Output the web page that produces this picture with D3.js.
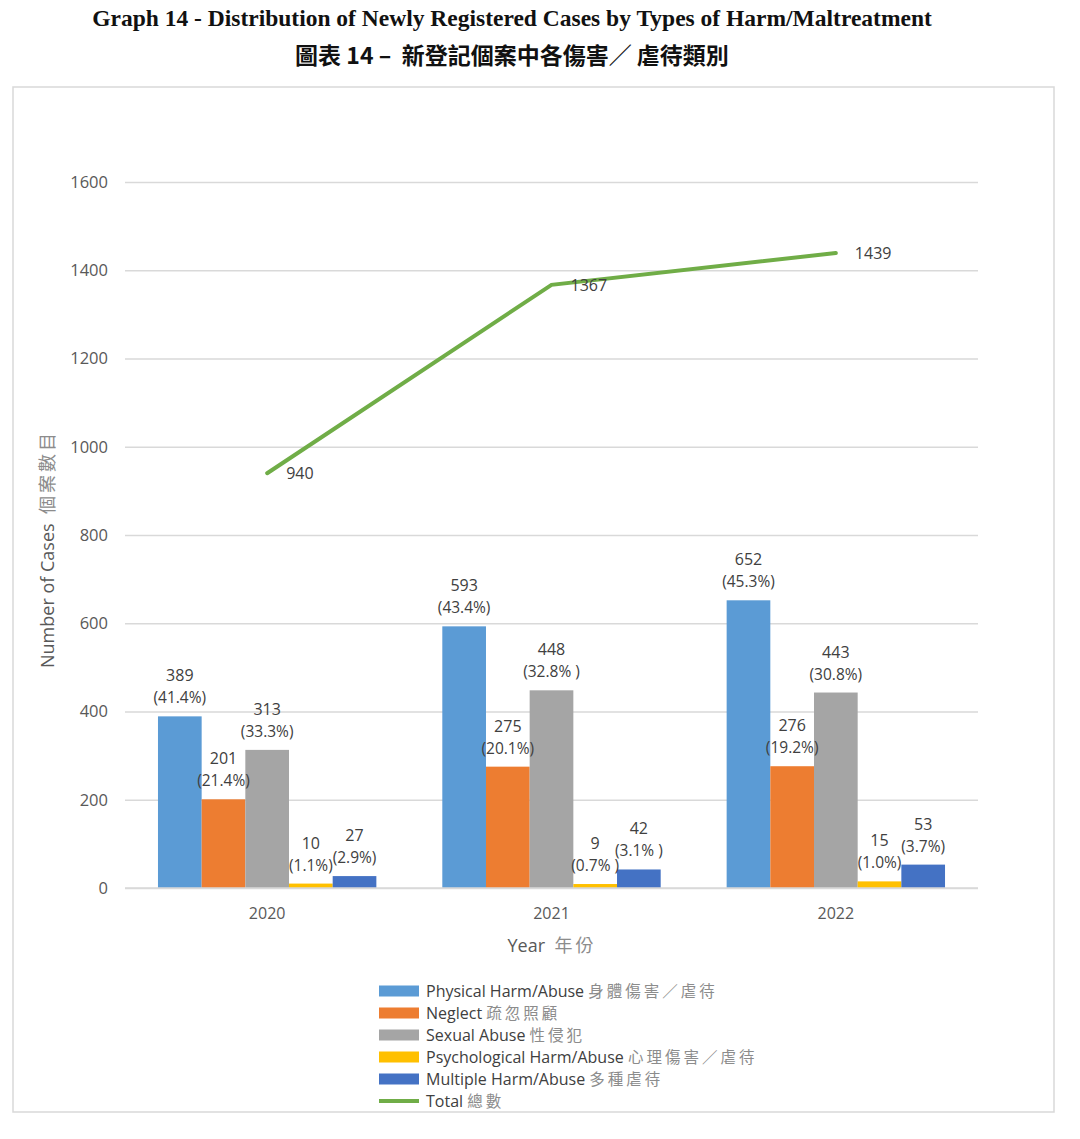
<!DOCTYPE html>
<html>
<head>
<meta charset="utf-8">
<script src="https://cdn.jsdelivr.net/npm/d3@7"></script>
<style>
  html, body { margin: 0; padding: 0; background: #fff; }
  svg { display: block; }
  text { white-space: pre; }
</style>
</head>
<body>
<svg id="chart" width="1080" height="1139"></svg>
<script>
// ---- data ----
const years = ["2020", "2021", "2022"];
const seriesKeys = ["physical", "neglect", "sexual", "psychological", "multiple"];
const seriesNamesEn = ["Physical Harm/Abuse", "Neglect", "Sexual Abuse", "Psychological Harm/Abuse", "Multiple Harm/Abuse"];
const seriesNamesZh = ["身體傷害／虐待", "疏忽照顧", "性侵犯", "心理傷害／虐待", "多種虐待"];
const physical = [389, 593, 652];
const neglect = [201, 275, 276];
const sexual = [313, 448, 443];
const psychological = [10, 9, 15];
const multiple = [27, 42, 53];
const physicalPct = ["(41.4%)", "(43.4%)", "(45.3%)"];
const neglectPct = ["(21.4%)", "(20.1%)", "(19.2%)"];
const sexualPct = ["(33.3%)", "(32.8% )", "(30.8%)"];
const psychologicalPct = ["(1.1%)", "(0.7% )", "(1.0%)"];
const multiplePct = ["(2.9%)", "(3.1% )", "(3.7%)"];
const total = [940, 1367, 1439];
const yTicks = [0, 200, 400, 600, 800, 1000, 1200, 1400, 1600];
const colors = ["#5B9BD5", "#ED7D31", "#A5A5A5", "#FFC000", "#4472C4"];
const totalColor = "#70AD47";

const seriesValues = [physical, neglect, sexual, psychological, multiple];
const seriesPct = [physicalPct, neglectPct, sexualPct, psychologicalPct, multiplePct];

// ---- layout ----
const svg = d3.select("#chart");
const plot = { left: 125, right: 978, top: 182, bottom: 888 };
const latin = "'Open Sans', 'Noto Sans', sans-serif";
const cjk = "'Noto Sans CJK TC', 'Noto Sans CJK SC', sans-serif";

// frame
svg.append("rect").attr("x", 13).attr("y", 87).attr("width", 1041).attr("height", 1025)
  .attr("fill", "#fff").attr("stroke", "#d9d9d9").attr("stroke-width", 1.5);

// titles
svg.append("text").attr("x", 512).attr("y", 26).attr("text-anchor", "middle")
  .attr("font-family", "'Liberation Serif', 'Times New Roman', serif").attr("font-weight", "bold")
  .attr("font-size", 23.5).attr("fill", "#111")
  .text("Graph 14 - Distribution of Newly Registered Cases by Types of Harm/Maltreatment");
svg.append("text").attr("x", 512).attr("y", 64).attr("text-anchor", "middle")
  .attr("font-family", cjk).attr("font-weight", "bold")
  .attr("font-size", 23).attr("fill", "#111")
  .text("圖表 14 –  新登記個案中各傷害／ 虐待類別");

// scales
const y = d3.scaleLinear().domain([0, 1600]).range([plot.bottom, plot.top]);
const x0 = d3.scaleBand().domain(years).range([plot.left, plot.right]).paddingInner(0).paddingOuter(0);
const x1 = d3.scaleBand().domain(seriesKeys).range([0, x0.bandwidth()]).paddingInner(0).paddingOuter(0.755);

// gridlines + y axis
const yAxis = d3.axisLeft(y).tickValues(yTicks).tickFormat(d3.format("d"))
  .tickSize(-(plot.right - plot.left)).tickPadding(17);
const gy = svg.append("g").attr("transform", `translate(${plot.left},0)`).call(yAxis);
gy.select(".domain").remove();
gy.selectAll(".tick line").attr("stroke", "#d9d9d9").attr("stroke-width", 1.3);
gy.selectAll(".tick text").attr("font-family", latin).attr("font-size", 16.5).attr("fill", "#595959");

// x axis
const xAxis = d3.axisBottom(x0).tickSize(0).tickPadding(20);
const gx = svg.append("g").attr("transform", `translate(0,${plot.bottom})`).call(xAxis);
gx.select(".domain").remove();
gx.selectAll(".tick text").attr("font-family", latin).attr("font-size", 16).attr("fill", "#595959");

// bars
seriesKeys.forEach((k, si) => {
  const g = svg.append("g");
  g.selectAll("rect").data(years).join("rect")
    .attr("x", d => x0(d) + x1(k))
    .attr("y", (d, i) => y(seriesValues[si][i]))
    .attr("width", x1.bandwidth())
    .attr("height", (d, i) => y(0) - y(seriesValues[si][i]))
    .attr("fill", colors[si]);
});

// baseline
svg.append("line").attr("x1", plot.left).attr("x2", plot.right)
  .attr("y1", y(0)).attr("y2", y(0)).attr("stroke", "#d9d9d9").attr("stroke-width", 1.3);

// bar labels
seriesKeys.forEach((k, si) => {
  const g = svg.append("g").attr("font-family", latin).attr("fill", "#404040").attr("text-anchor", "middle");
  years.forEach((yr, i) => {
    const cx = x0(yr) + x1(k) + x1.bandwidth() / 2;
    const top = y(seriesValues[si][i]);
    g.append("text").attr("x", cx).attr("y", top - 35).attr("font-size", 16)
      .text(seriesValues[si][i]);
    g.append("text").attr("x", cx).attr("y", top - 13).attr("font-size", 15.5)
      .text(seriesPct[si][i]);
  });
});

// total line
const line = d3.line().x((d, i) => x0(years[i]) + x0.bandwidth() / 2).y(d => y(d));
svg.append("path").datum(total).attr("d", line)
  .attr("fill", "none").attr("stroke", totalColor).attr("stroke-width", 4).attr("stroke-linecap", "round");
svg.append("g").selectAll("text").data(total).join("text")
  .attr("x", (d, i) => x0(years[i]) + x0.bandwidth() / 2 + 19)
  .attr("y", d => y(d) + 6)
  .attr("font-family", latin).attr("font-size", 16).attr("fill", "#404040")
  .text(d => d);

// axis titles
const xt = svg.append("text").attr("x", 552).attr("y", 952).attr("text-anchor", "middle")
  .attr("font-size", 18).attr("fill", "#595959");
xt.append("tspan").attr("font-family", latin).text("Year  ");
xt.append("tspan").attr("font-family", cjk).attr("fill", "#8c8c8c").attr("letter-spacing", 3).text("年份");

const yt = svg.append("text").attr("transform", "translate(54,549) rotate(-90)").attr("text-anchor", "middle")
  .attr("font-size", 18).attr("fill", "#595959");
yt.append("tspan").attr("font-family", latin).text("Number of Cases  ");
yt.append("tspan").attr("font-family", cjk).attr("fill", "#8c8c8c").attr("letter-spacing", 3).text("個案數目");

// legend
const legendRows = [991, 1013, 1035, 1057, 1079, 1101];
const lg = svg.append("g");
seriesKeys.forEach((k, si) => {
  const ry = legendRows[si];
  lg.append("rect").attr("x", 379).attr("y", ry - 5.5).attr("width", 40).attr("height", 11)
    .attr("fill", colors[si]);
  const t = lg.append("text").attr("x", 426).attr("y", ry + 6).attr("fill", "#404040");
  t.append("tspan").attr("font-family", latin).attr("font-size", 16).text(seriesNamesEn[si] + " ");
  t.append("tspan").attr("font-family", cjk).attr("font-size", 15.5).attr("letter-spacing", 3)
    .attr("fill", "#8c8c8c").text(seriesNamesZh[si]);
});
{
  const ry = legendRows[5];
  lg.append("line").attr("x1", 379).attr("x2", 419).attr("y1", ry).attr("y2", ry)
    .attr("stroke", totalColor).attr("stroke-width", 4);
  const t = lg.append("text").attr("x", 426).attr("y", ry + 6).attr("fill", "#404040");
  t.append("tspan").attr("font-family", latin).attr("font-size", 16).text("Total ");
  t.append("tspan").attr("font-family", cjk).attr("font-size", 15.5).attr("letter-spacing", 3)
    .attr("fill", "#8c8c8c").text("總數");
}
</script>
</body>
</html>
